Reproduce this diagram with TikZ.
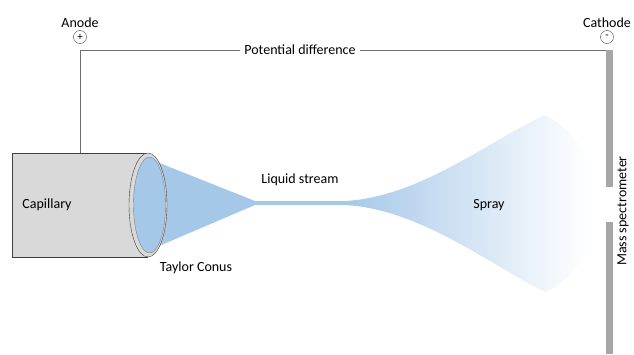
\documentclass[tikz,border=0pt]{standalone}
\usepackage{fontspec}
\setmainfont{Carlito}
\usepackage{tikz}
\usetikzlibrary{positioning, calc}
\definecolor{capfill}{HTML}{D9D9D9}
\definecolor{capline}{HTML}{3F3F3F}
\definecolor{fluid}{HTML}{A6C8E8}
\definecolor{barfill}{HTML}{A6A6A6}
\definecolor{wire}{HTML}{6F6F6F}

\tikzset{
    pole/.style={circle, draw=capline, inner sep=0pt, minimum size=13pt, font=\fontsize{11}{11}\selectfont},
    label/.style={text=black, inner sep=1pt}
}

\begin{document}
\begin{tikzpicture}[x=1pt, y=-1pt, font=\fontsize{14}{16}\selectfont]
    \useasboundingbox (0,0) rectangle (634,354);

    % Electrodes
    \node[pole] (plus) at (80,37) {+};
    \node[label, above=2pt of plus] (anode) {Anode};
    \node[pole] (minus) at (607,37) {-};
    \node[label, above=2pt of minus] (cathode) {Cathode};

    % Wire between the poles
    \coordinate (captop) at (80,153);
    \coordinate (corner) at (80,50);
    \coordinate (bartop) at (606,50);
    \draw[wire] (captop) -- (corner) -- (bartop);
    \node[label, fill=white, inner sep=4pt] (potential) at (300,50) {Potential difference};

    % Taylor cone
    \fill[fluid] (152,160) -- (255,201) -- (255,205) -- (152,249) -- cycle;

    % Capillary
    \fill[capfill] (12,153) rectangle (148,257);
    \draw[capline] (148,153) -- (12,153) -- (12,257) -- (148,257);
    \filldraw[fill=capfill, draw=capline] (148,205) ellipse (19 and 52);
    \filldraw[fill=fluid, draw=gray] (149.5,205) ellipse (16 and 48);
    \node[label] (capillary) at (47,205) {Capillary};
    \node[label] (taylor) at (196,268) {Taylor Conus};

    % Liquid stream
    \fill[fluid] (254,201) rectangle (350,205);
    \node[label] (stream) at (300,180) {Liquid stream};

    % Spray, fading out towards the inlet
    \begin{scope}
        \clip (345,201) .. controls (420,197) and (490,140) .. (545,115)
            .. controls (615,150) and (615,260) .. (545,292)
            .. controls (490,265) and (420,209) .. (345,205) -- cycle;
        \shade[left color=fluid, right color=white] (345,110) rectangle (588,300);
    \end{scope}
    \node[label] (spray) at (489,205) {Spray};

    % Mass spectrometer inlet
    \fill[barfill] (606,50) rectangle (613,187);
    \fill[barfill] (606,222) rectangle (613,354);
    \node[label, rotate=90] (ms) at (623,211) {Mass spectrometer};
\end{tikzpicture}
\end{document}
